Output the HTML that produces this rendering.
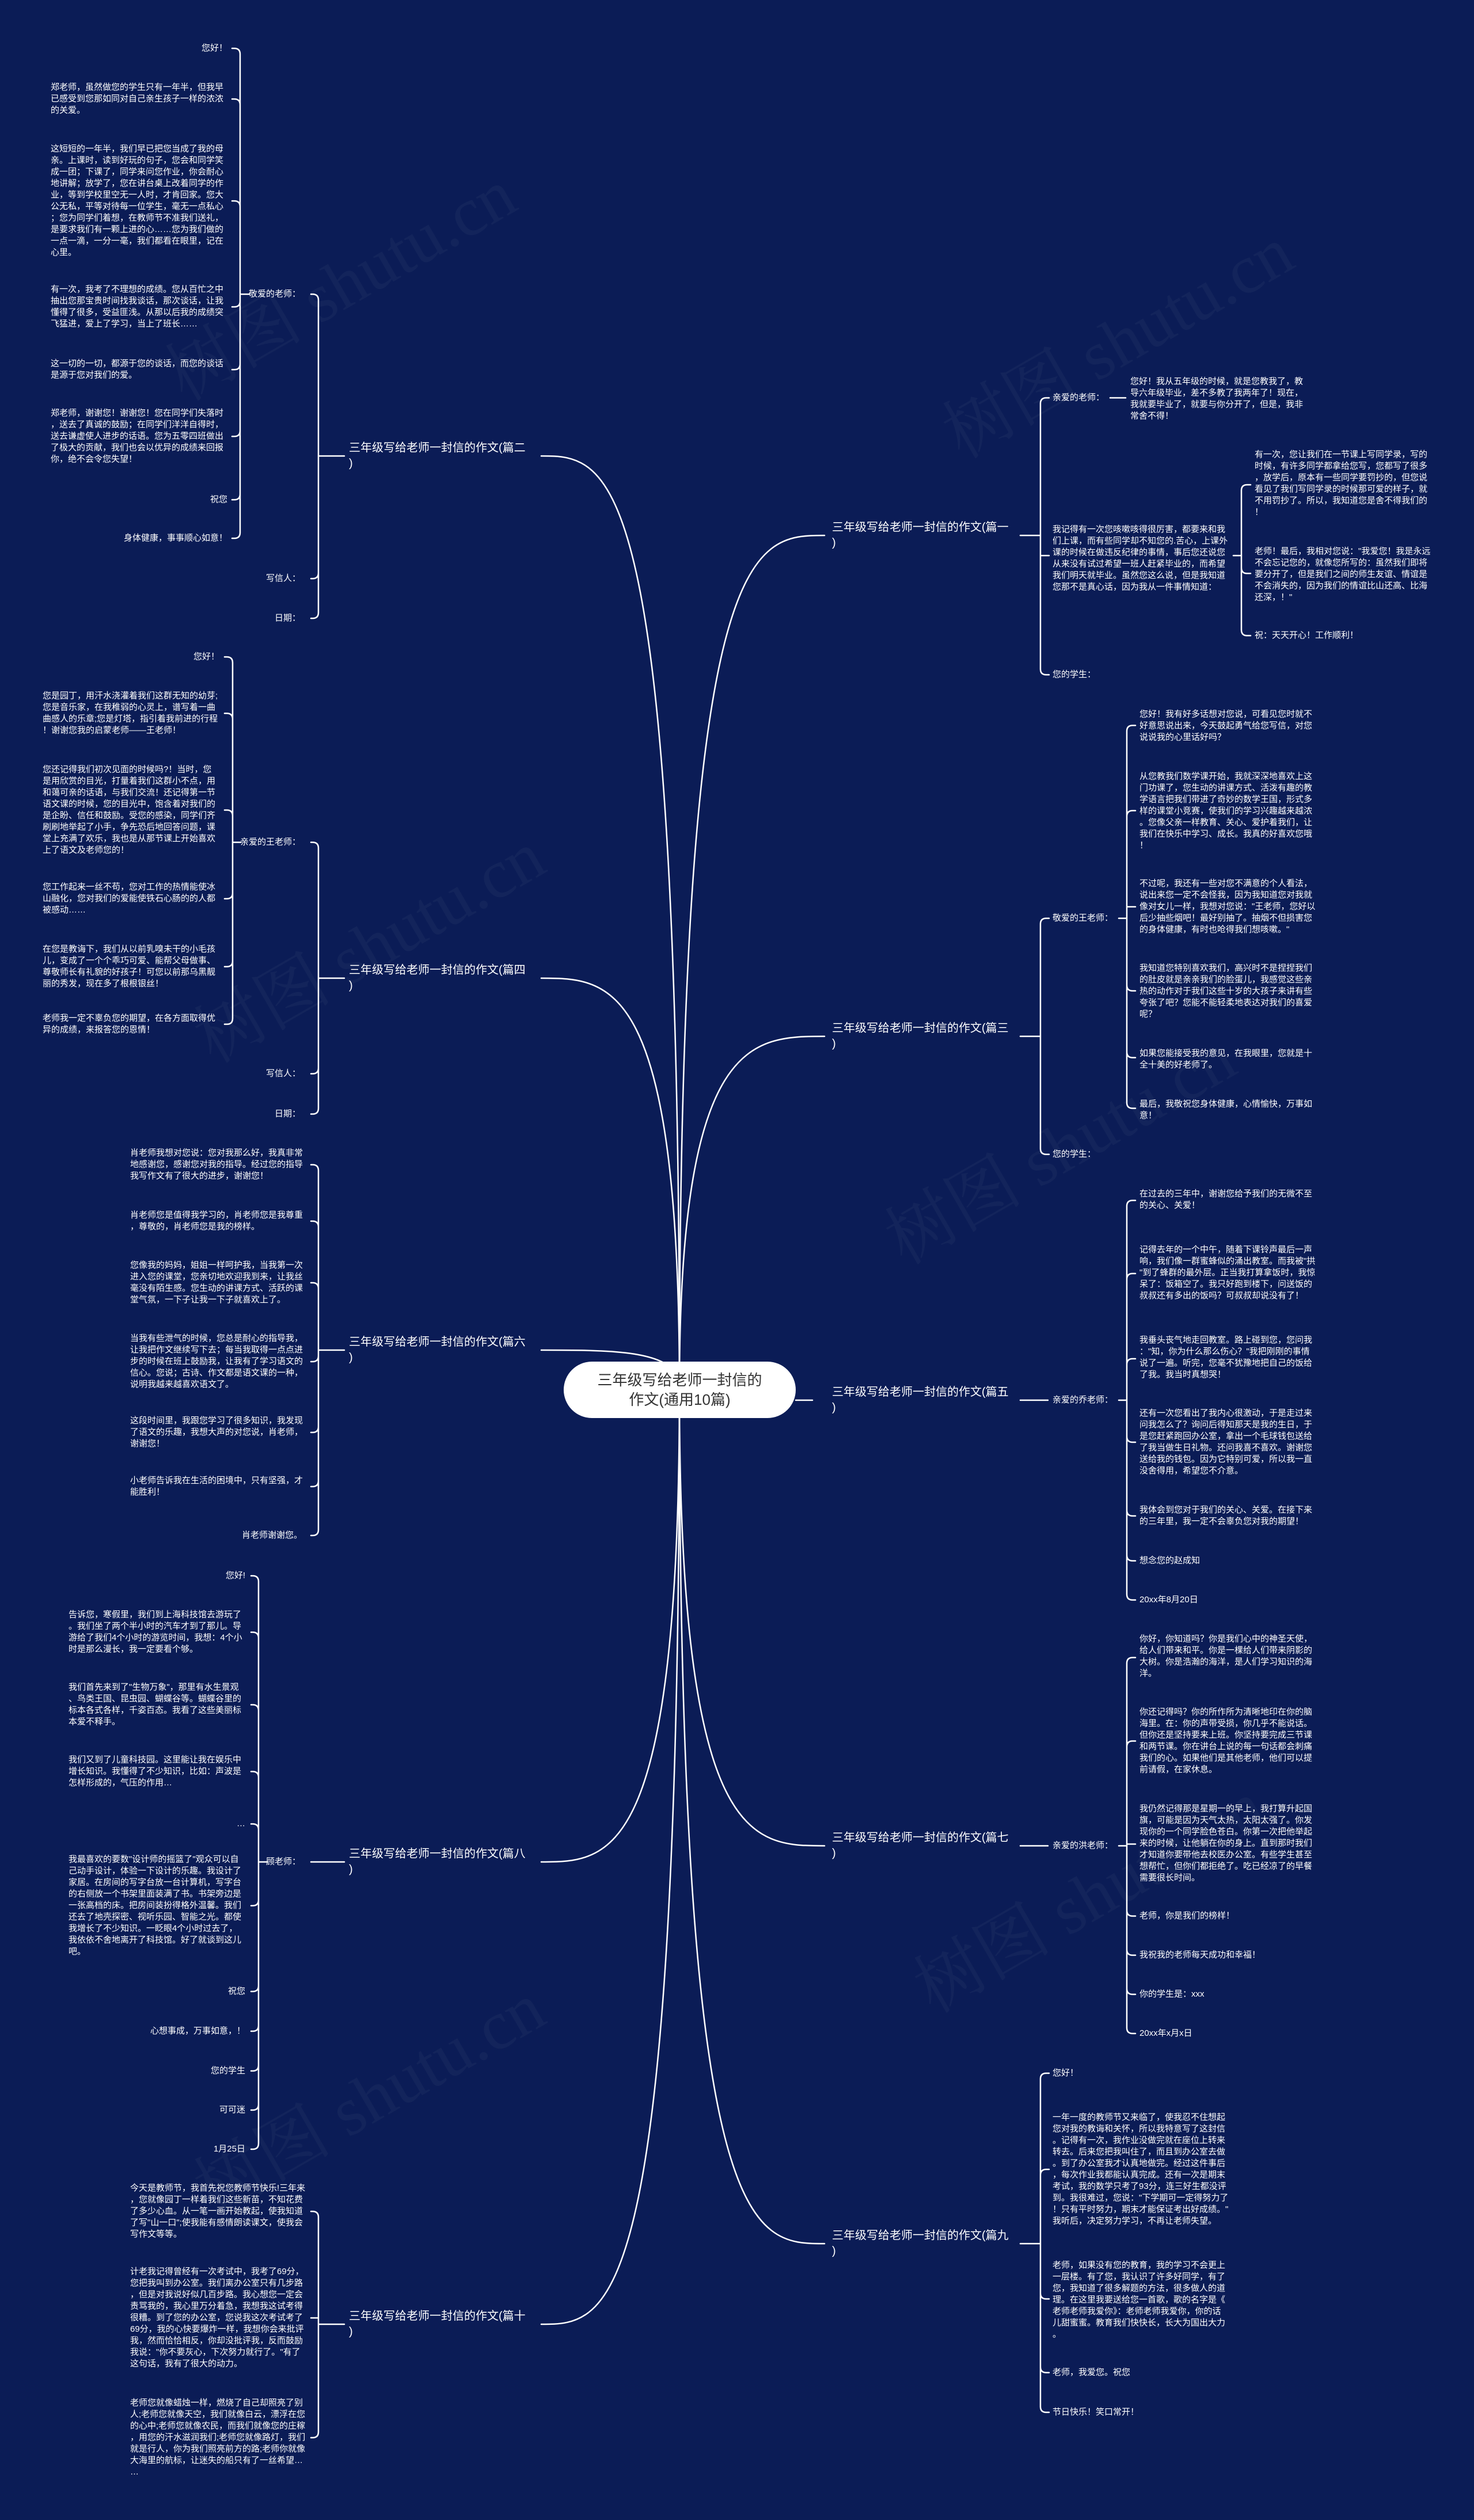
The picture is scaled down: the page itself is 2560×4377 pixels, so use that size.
<!DOCTYPE html>
<html><head><meta charset="utf-8">
<style>
html,body{margin:0;padding:0;}
body{width:2560px;height:4377px;background:#0b1c56;position:relative;overflow:hidden;font-family:"Liberation Sans","Noto Sans CJK SC",sans-serif;}
.t{position:absolute;font-size:15px;line-height:20px;color:#fff;transform:translateY(-50%);max-width:307px;text-align:left;word-break:break-all;line-break:anywhere;}
.l{position:absolute;font-size:20px;line-height:27px;color:#fff;transform:translateY(-50%);white-space:nowrap;}
.wm{position:absolute;font-family:"Liberation Serif","Noto Serif CJK SC",serif;font-size:120px;color:rgba(255,255,255,0.035);transform:rotate(-30deg);white-space:nowrap;}
#c{position:absolute;left:979px;top:2365px;width:403px;height:98px;border-radius:49px;background:#fff;color:#333;font-size:26px;line-height:34px;text-align:center;display:flex;align-items:center;justify-content:center;}
svg{position:absolute;left:0;top:0;}
</style></head><body>
<div class="wm" style="left:1600px;top:500px">树图 shutu.cn</div>
<div class="wm" style="left:1500px;top:1900px">树图 shutu.cn</div>
<div class="wm" style="left:1550px;top:3200px">树图 shutu.cn</div>
<div class="wm" style="left:300px;top:1550px">树图 shutu.cn</div>
<div class="wm" style="left:300px;top:3550px">树图 shutu.cn</div>
<div class="wm" style="left:250px;top:400px">树图 shutu.cn</div>

<svg width="2560" height="4377" fill="none" stroke="#fff" stroke-width="2.5" stroke-linecap="round">
<path d="M1180 2413C1180 930 1306 930 1432 930"/>
<path d="M1180 2413C1180 1800 1306 1800 1432 1800"/>
<path d="M1382 2432H1411"/>
<path d="M1180 2413C1180 3206 1306 3206 1432 3206"/>
<path d="M1180 2413C1180 3897 1306 3897 1432 3897"/>
<path d="M1180 2413C1180 792 1060 792 940 792"/>
<path d="M1180 2413C1180 1699 1060 1699 940 1699"/>
<path d="M1180 2390C1150 2345 1060 2345 940 2345"/>
<path d="M1180 2413C1180 3234 1060 3234 940 3234"/>
<path d="M1180 2413C1180 4037 1060 4037 940 4037"/>
<path d="M1180 2365V2300M1180 2463V2530"/>

<path d="M598 792H553V521Q553 511 543 511H540M553 792V995Q553 1005 543 1005H540M553 1064Q553 1074 543 1074H540M553 995V1064"/>
<path d="M433 511H417V94Q417 84 407 84H403M417 182Q417 172 407 172H403M417 359Q417 349 407 349H403M417 511V925Q417 935 407 935H403M417 523Q417 533 407 533H403M417 632Q417 642 407 642H403M417 748Q417 758 407 758H403M417 858Q417 868 407 868H403"/>
<path d="M598 1699H553V1473Q553 1463 543 1463H540M553 1699V1925Q553 1935 543 1935H540M553 1855Q553 1865 543 1865H540"/>
<path d="M418 1463H404V1151Q404 1141 394 1141H390M404 1249Q404 1239 394 1239H390M404 1417Q404 1407 394 1407H390M404 1463V1769Q404 1779 394 1779H390M404 1551Q404 1561 394 1561H390M404 1669Q404 1679 394 1679H390"/>
<path d="M598 2345H553V2033Q553 2023 543 2023H540M553 2131Q553 2121 543 2121H540M553 2238Q553 2228 543 2228H540M553 2345V2657Q553 2667 543 2667H540M553 2355Q553 2365 543 2365H540M553 2478Q553 2488 543 2488H540M553 2572Q553 2582 543 2582H540"/>
<path d="M598 3234H540"/>
<path d="M464 3234H449V2747Q449 2737 439 2737H436M449 2845Q449 2835 439 2835H436M449 2971Q449 2961 439 2961H436M449 3087Q449 3077 439 3077H436M449 3178Q449 3168 439 3168H436M449 3234V3723Q449 3733 439 3733H436M449 3300Q449 3310 439 3310H436M449 3449Q449 3459 439 3459H436M449 3518Q449 3528 439 3528H436M449 3587Q449 3597 439 3597H436M449 3655Q449 3665 439 3665H436"/>
<path d="M598 4037H553V3851Q553 3841 543 3841H540M553 4026H540M553 4037V4224Q553 4234 543 4234H540"/>

<path d="M1772 930H1807V701Q1807 691 1817 691H1822M1807 930V1162Q1807 1172 1817 1172H1822M1807 965H1822"/>
<path d="M1928 691H1955"/>
<path d="M2142 965H2156V852Q2156 842 2166 842H2172M2156 986Q2156 996 2166 996H2172M2156 965V1094Q2156 1104 2166 1104H2172"/>
<path d="M1772 1800H1807V1605Q1807 1595 1817 1595H1822M1807 1800V1995Q1807 2005 1817 2005H1822"/>
<path d="M1943 1595H1957V1270Q1957 1260 1967 1260H1972M1957 1418Q1957 1408 1967 1408H1972M1957 1575H1972M1957 1595V1915Q1957 1925 1967 1925H1972M1957 1711Q1957 1721 1967 1721H1972M1957 1827Q1957 1837 1967 1837H1972"/>
<path d="M1772 2432H1820"/>
<path d="M1943 2432H1957V2095Q1957 2085 1967 2085H1972M1957 2222Q1957 2212 1967 2212H1972M1957 2370Q1957 2360 1967 2360H1972M1957 2432V2769Q1957 2779 1967 2779H1972M1957 2495Q1957 2505 1967 2505H1972M1957 2623Q1957 2633 1967 2633H1972M1957 2701Q1957 2711 1967 2711H1972"/>
<path d="M1772 3206H1820"/>
<path d="M1943 3206H1957V2889Q1957 2879 1967 2879H1972M1957 3034Q1957 3024 1967 3024H1972M1957 3203H1972M1957 3206V3522Q1957 3532 1967 3532H1972M1957 3318Q1957 3328 1967 3328H1972M1957 3386Q1957 3396 1967 3396H1972M1957 3454Q1957 3464 1967 3464H1972"/>
<path d="M1772 3897H1807V3611Q1807 3601 1817 3601H1822M1807 3778Q1807 3768 1817 3768H1822M1807 3897V4180Q1807 4190 1817 4190H1822M1807 3983Q1807 3993 1817 3993H1822M1807 4111Q1807 4121 1817 4121H1822"/>
</svg>

<div id="c">三年级写给老师一封信的<br>作文(通用10篇)</div>

<div class="l" style="left:606px;top:792px">三年级写给老师一封信的作文(篇二<br>)</div>
<div class="l" style="left:606px;top:1699px">三年级写给老师一封信的作文(篇四<br>)</div>
<div class="l" style="left:606px;top:2345px">三年级写给老师一封信的作文(篇六<br>)</div>
<div class="l" style="left:606px;top:3234px">三年级写给老师一封信的作文(篇八<br>)</div>
<div class="l" style="left:606px;top:4037px">三年级写给老师一封信的作文(篇十<br>)</div>
<div class="l" style="left:1445px;top:930px">三年级写给老师一封信的作文(篇一<br>)</div>
<div class="l" style="left:1445px;top:1800px">三年级写给老师一封信的作文(篇三<br>)</div>
<div class="l" style="left:1445px;top:2432px">三年级写给老师一封信的作文(篇五<br>)</div>
<div class="l" style="left:1445px;top:3206px">三年级写给老师一封信的作文(篇七<br>)</div>
<div class="l" style="left:1445px;top:3897px">三年级写给老师一封信的作文(篇九<br>)</div>

<div class="t" style="right:2038px;top:511px">敬爱的老师：</div>
<div class="t" style="right:2038px;top:1005px">写信人：</div>
<div class="t" style="right:2038px;top:1074px">日期：</div>
<div class="t" style="right:2165px;top:84px">您好！</div>
<div class="t" style="right:2165px;top:172px">郑老师，虽然做您的学生只有一年半，但我早已感受到您那如同对自己亲生孩子一样的浓浓的关爱。</div>
<div class="t" style="right:2165px;top:349px">这短短的一年半，我们早已把您当成了我的母亲。上课时，读到好玩的句子，您会和同学笑成一团；下课了，同学来问您作业，你会耐心地讲解；放学了，您在讲台桌上改着同学的作业，等到学校里空无一人时，才肯回家。您大公无私，平等对待每一位学生，毫无一点私心；您为同学们着想，在教师节不准我们送礼，是要求我们有一颗上进的心……您为我们做的一点一滴，一分一毫，我们都看在眼里，记在心里。</div>
<div class="t" style="right:2165px;top:533px">有一次，我考了不理想的成绩。您从百忙之中抽出您那宝贵时间找我谈话，那次谈话，让我懂得了很多，受益匪浅。从那以后我的成绩突飞猛进，爱上了学习，当上了班长……</div>
<div class="t" style="right:2165px;top:642px">这一切的一切，都源于您的谈话，而您的谈话是源于您对我们的爱。</div>
<div class="t" style="right:2165px;top:758px">郑老师，谢谢您！谢谢您！您在同学们失落时，送去了真诚的鼓励；在同学们洋洋自得时，送去谦虚使人进步的话语。您为五零四班做出了极大的贡献，我们也会以优异的成绩来回报你，绝不会令您失望！</div>
<div class="t" style="right:2165px;top:868px">祝您</div>
<div class="t" style="right:2165px;top:935px">身体健康，事事顺心如意！</div>

<div class="t" style="right:2038px;top:1463px">亲爱的王老师：</div>
<div class="t" style="right:2038px;top:1865px">写信人：</div>
<div class="t" style="right:2038px;top:1935px">日期：</div>
<div class="t" style="right:2179px;top:1141px">您好！</div>
<div class="t" style="right:2179px;top:1239px">您是园丁，用汗水浇灌着我们这群无知的幼芽;您是音乐家，在我稚弱的心灵上，谱写着一曲曲感人的乐章;您是灯塔，指引着我前进的行程！谢谢您我的启蒙老师——王老师！</div>
<div class="t" style="right:2179px;top:1407px">您还记得我们初次见面的时候吗?！当时，您是用欣赏的目光，打量着我们这群小不点，用和蔼可亲的话语，与我们交流！还记得第一节语文课的时候，您的目光中，饱含着对我们的是企盼、信任和鼓励。受您的感染，同学们齐刷刷地举起了小手，争先恐后地回答问题，课堂上充满了欢乐，我也是从那节课上开始喜欢上了语文及老师您的！</div>
<div class="t" style="right:2179px;top:1561px">您工作起来一丝不苟，您对工作的热情能使冰山融化，您对我们的爱能使铁石心肠的的人都被感动……</div>
<div class="t" style="right:2179px;top:1679px">在您是教诲下，我们从以前乳嗅未干的小毛孩儿，变成了一个个乖巧可爱、能帮父母做事、尊敬师长有礼貌的好孩子！可您以前那乌黑靓丽的秀发，现在多了根根银丝！</div>
<div class="t" style="right:2179px;top:1779px">老师我一定不辜负您的期望，在各方面取得优异的成绩，来报答您的恩情！</div>

<div class="t" style="right:2027px;top:2023px">肖老师我想对您说：您对我那么好，我真非常地感谢您，感谢您对我的指导。经过您的指导我写作文有了很大的进步，谢谢您！</div>
<div class="t" style="right:2027px;top:2121px">肖老师您是值得我学习的，肖老师您是我尊重，尊敬的，肖老师您是我的榜样。</div>
<div class="t" style="right:2027px;top:2228px">您像我的妈妈，姐姐一样呵护我，当我第一次进入您的课堂，您亲切地欢迎我到来，让我丝毫没有陌生感。您生动的讲课方式、活跃的课堂气氛，一下子让我一下子就喜欢上了。</div>
<div class="t" style="right:2027px;top:2365px">当我有些泄气的时候，您总是耐心的指导我，让我把作文继续写下去；每当我取得一点点进步的时候在班上鼓励我，让我有了学习语文的信心。您说；古诗、作文都是语文课的一种，说明我越来越喜欢语文了。</div>
<div class="t" style="right:2027px;top:2488px">这段时间里，我跟您学习了很多知识，我发现了语文的乐趣，我想大声的对您说，肖老师，谢谢您！</div>
<div class="t" style="right:2027px;top:2582px">小老师告诉我在生活的困境中，只有坚强，才能胜利！</div>
<div class="t" style="right:2035px;top:2667px">肖老师谢谢您。</div>

<div class="t" style="right:2038px;top:3234px">顾老师：</div>
<div class="t" style="right:2134px;top:2737px">您好!</div>
<div class="t" style="right:2134px;top:2835px">告诉您，寒假里，我们到上海科技馆去游玩了。我们坐了两个半小时的汽车才到了那儿。导游给了我们4个小时的游览时间，我想：4个小时是那么漫长，我一定要看个够。</div>
<div class="t" style="right:2134px;top:2961px">我们首先来到了"生物万象"，那里有水生景观、鸟类王国、昆虫园、蝴蝶谷等。蝴蝶谷里的标本各式各样，千姿百态。我看了这些美丽标本爱不释手。</div>
<div class="t" style="right:2134px;top:3077px">我们又到了儿童科技园。这里能让我在娱乐中增长知识。我懂得了不少知识，比如：声波是怎样形成的，气压的作用…</div>
<div class="t" style="right:2134px;top:3168px">…</div>
<div class="t" style="right:2134px;top:3310px">我最喜欢的要数"设计师的摇篮了"观众可以自己动手设计，体验一下设计的乐趣。我设计了家居。在房间的写字台放一台计算机，写字台的右侧放一个书架里面装满了书。书架旁边是一张高档的床。把房间装扮得格外温馨。我们还去了地壳探密、视听乐园、智能之光。都使我增长了不少知识。一眨眼4个小时过去了，我依依不舍地离开了科技馆。好了就谈到这儿吧。</div>
<div class="t" style="right:2134px;top:3459px">祝您</div>
<div class="t" style="right:2134px;top:3528px">心想事成，万事如意，！</div>
<div class="t" style="right:2134px;top:3597px">您的学生</div>
<div class="t" style="right:2134px;top:3665px">可可迷</div>
<div class="t" style="right:2134px;top:3733px">1月25日</div>

<div class="t" style="right:2027px;top:3841px">今天是教师节，我首先祝您教师节快乐!三年来，您就像园丁一样着我们这些新苗，不知花费了多少心血。从一笔一画开始教起，使我知道了写"山一口";使我能有感情朗读课文，使我会写作文等等。</div>
<div class="t" style="right:2027px;top:4026px">计老我记得曾经有一次考试中，我考了69分，您把我叫到办公室。我们离办公室只有几步路，但是对我说好似几百步路。我心想您一定会责骂我的，我心里万分着急，我想我这试考得很糟。到了您的办公室，您说我这次考试考了69分，我的心快要爆炸一样，我想你会来批评我，然而恰恰相反，你却没批评我，反而鼓励我说："你不要灰心，下次努力就行了。"有了这句话，我有了很大的动力。</div>
<div class="t" style="right:2027px;top:4234px">老师您就像蜡烛一样，燃烧了自己却照亮了别人;老师您就像天空，我们就像白云，漂浮在您的心中;老师您就像农民，而我们就像您的庄稼，用您的汗水滋润我们;老师您就像路灯，我们就是行人，你为我们照亮前方的路;老师你就像大海里的航标，让迷失的船只有了一丝希望……</div>

<div class="t" style="left:1828px;top:691px">亲爱的老师：</div>
<div class="t" style="left:1963px;top:693px">您好！我从五年级的时候，就是您教我了，教导六年级毕业，差不多教了我两年了！现在，我就要毕业了，就要与你分开了，但是，我非常舍不得！</div>
<div class="t" style="left:1828px;top:970px">我记得有一次您咳嗽咳得很厉害，都要来和我们上课，而有些同学却不知您的.苦心，上课外课的时候在做违反纪律的事情，事后您还说您从来没有试过希望一班人赶紧毕业的，而希望我们明天就毕业。虽然您这么说，但是我知道您那不是真心话，因为我从一件事情知道：</div>
<div class="t" style="left:2179px;top:840px">有一次，您让我们在一节课上写同学录，写的时候，有许多同学都拿给您写，您都写了很多，放学后，原本有一些同学要罚抄的，但您说看见了我们写同学录的时候那可爱的样子，就不用罚抄了。所以，我知道您是舍不得我们的！</div>
<div class="t" style="left:2179px;top:998px">老师！最后，我相对您说："我爱您！我是永远不会忘记您的，就像您所写的：虽然我们即将要分开了，但是我们之间的师生友谊、情谊是不会消失的，因为我们的情谊比山还高、比海还深，！"</div>
<div class="t" style="left:2179px;top:1104px">祝：天天开心！工作顺利！</div>
<div class="t" style="left:1828px;top:1172px">您的学生：</div>

<div class="t" style="left:1828px;top:1595px">敬爱的王老师：</div>
<div class="t" style="left:1828px;top:2005px">您的学生：</div>
<div class="t" style="left:1979px;top:1261px">您好！我有好多话想对您说，可看见您时就不好意思说出来，今天鼓起勇气给您写信，对您说说我的心里话好吗？</div>
<div class="t" style="left:1979px;top:1409px">从您教我们数学课开始，我就深深地喜欢上这门功课了，您生动的讲课方式、活泼有趣的教学语言把我们带进了奇妙的数学王国，形式多样的课堂小竞赛，使我们的学习兴趣越来越浓。您像父亲一样教育、关心、爱护着我们，让我们在快乐中学习、成长。我真的好喜欢您哦！</div>
<div class="t" style="left:1979px;top:1575px">不过呢，我还有一些对您不满意的个人看法，说出来您一定不会怪我，因为我知道您对我就像对女儿一样，我想对您说："王老师，您好以后少抽些烟吧！最好别抽了。抽烟不但损害您的身体健康，有时也呛得我们想咳嗽。"</div>
<div class="t" style="left:1979px;top:1722px">我知道您特别喜欢我们，高兴时不是捏捏我们的肚皮就是亲亲我们的脸蛋儿，我感觉这些亲热的动作对于我们这些十岁的大孩子来讲有些夸张了吧？您能不能轻柔地表达对我们的喜爱呢？</div>
<div class="t" style="left:1979px;top:1840px">如果您能接受我的意见，在我眼里，您就是十全十美的好老师了。</div>
<div class="t" style="left:1979px;top:1928px">最后，我敬祝您身体健康，心情愉快，万事如意！</div>

<div class="t" style="left:1828px;top:2432px">亲爱的乔老师：</div>
<div class="t" style="left:1979px;top:2084px">在过去的三年中，谢谢您给予我们的无微不至的关心、关爱！</div>
<div class="t" style="left:1979px;top:2211px">记得去年的一个中午，随着下课铃声最后一声响，我们像一群蜜蜂似的涌出教室。而我被"拱"到了蜂群的最外层。正当我打算拿饭时，我惊呆了：饭箱空了。我只好跑到楼下，问送饭的叔叔还有多出的饭吗？可叔叔却说没有了！</div>
<div class="t" style="left:1979px;top:2358px">我垂头丧气地走回教室。路上碰到您，您问我："知，你为什么那么伤心？"我把刚刚的事情说了一遍。听完，您毫不犹豫地把自己的饭给了我。我当时真想哭！</div>
<div class="t" style="left:1979px;top:2505px">还有一次您看出了我内心很激动，于是走过来问我怎么了？询问后得知那天是我的生日，于是您赶紧跑回办公室，拿出一个毛球钱包送给了我当做生日礼物。还问我喜不喜欢。谢谢您送给我的钱包。因为它特别可爱，所以我一直没舍得用，希望您不介意。</div>
<div class="t" style="left:1979px;top:2633px">我体会到您对于我们的关心、关爱。在接下来的三年里，我一定不会辜负您对我的期望！</div>
<div class="t" style="left:1979px;top:2711px">想念您的赵成知</div>
<div class="t" style="left:1979px;top:2779px">20xx年8月20日</div>

<div class="t" style="left:1828px;top:3206px">亲爱的洪老师：</div>
<div class="t" style="left:1979px;top:2877px">你好，你知道吗？你是我们心中的神圣天使，给人们带来和平。你是一棵给人们带来阴影的大树。你是浩瀚的海洋，是人们学习知识的海洋。</div>
<div class="t" style="left:1979px;top:3024px">你还记得吗？你的所作所为清晰地印在你的脑海里。在：你的声带受损，你几乎不能说话。但你还是坚持要来上班。你坚持要完成三节课和两节课。你在讲台上说的每一句话都会刺痛我们的心。如果他们是其他老师，他们可以提前请假，在家休息。</div>
<div class="t" style="left:1979px;top:3202px">我仍然记得那是星期一的早上，我打算升起国旗，可能是因为天气太热，太阳太强了。你发现你的一个同学脸色苍白。你第一次把他举起来的时候，让他躺在你的身上。直到那时我们才知道你要带他去校医办公室。有些学生甚至想帮忙，但你们都拒绝了。吃已经凉了的早餐需要很长时间。</div>
<div class="t" style="left:1979px;top:3328px">老师，你是我们的榜样！</div>
<div class="t" style="left:1979px;top:3396px">我祝我的老师每天成功和幸福！</div>
<div class="t" style="left:1979px;top:3464px">你的学生是：xxx</div>
<div class="t" style="left:1979px;top:3532px">20xx年x月x日</div>

<div class="t" style="left:1828px;top:3601px">您好！</div>
<div class="t" style="left:1828px;top:3768px">一年一度的教师节又来临了，使我忍不住想起您对我的教诲和关怀，所以我特意写了这封信。记得有一次，我作业没做完就在座位上转来转去。后来您把我叫住了，而且到办公室去做。到了办公室我才认真地做完。经过这件事后，每次作业我都能认真完成。还有一次是期末考试，我的数学只考了93分，连三好生都没评到。我很难过，您说："下学期可一定得努力了！只有平时努力，期末才能保证考出好成绩。"我听后，决定努力学习，不再让老师失望。</div>
<div class="t" style="left:1828px;top:3995px">老师，如果没有您的教育，我的学习不会更上一层楼。有了您，我认识了许多好同学，有了您，我知道了很多解题的方法，很多做人的道理。在这里我要送给您一首歌，歌的名字是《老师老师我爱你》：老师老师我爱你，你的话儿甜蜜蜜。教育我们快快长，长大为国出大力。</div>
<div class="t" style="left:1828px;top:4121px">老师，我爱您。祝您</div>
<div class="t" style="left:1828px;top:4190px">节日快乐！笑口常开！</div>
</body></html>
